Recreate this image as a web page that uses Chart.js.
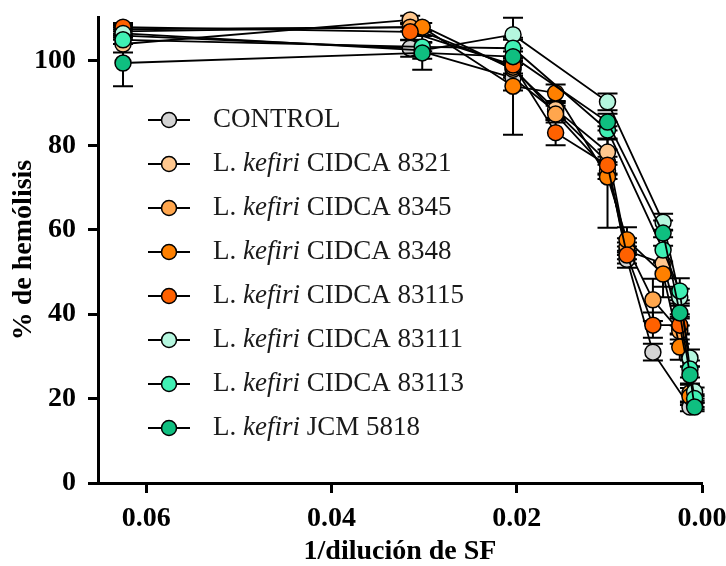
<!DOCTYPE html>
<html><head><meta charset="utf-8">
<script src="https://cdn.jsdelivr.net/npm/chart.js@4.4.1/dist/chart.umd.min.js"></script>
<style>
html,body{margin:0;padding:0;background:#fff;}
#wrap{position:relative;width:726px;height:566px;}
</style>
</head><body>
<div id="wrap"><canvas id="c" width="726" height="566"></canvas></div>
<script>
// ---- data ----
const seriesLabels = ['CONTROL','L. kefiri CIDCA 8321','L. kefiri CIDCA 8345','L. kefiri CIDCA 8348','L. kefiri CIDCA 83115','L. kefiri CIDCA 83111','L. kefiri CIDCA 83113','L. kefiri JCM 5818'];
const seriesColors = ['#d3d3d3','#ffc78e','#ffa64d','#ff8000','#ff6100','#b5f7df','#40f0b4','#0fbf80'];

const xControl = [0.0625,0.0315,0.0204,0.0158,0.0102,0.0081,0.0053,0.0013];
const yControl = [106,103,96,88,76,53,31,18];
const eControl = [2,2,3,2,3,2,2,1];

const x8321 = [0.0625,0.0315,0.0204,0.0158,0.0102,0.0081,0.0042,0.0024,0.0008];
const y8321 = [104,109.7,98,88.5,78.4,55,52,37,19];
const e8321 = [2,1,2,2,3,2,8,3,1];

const x8345 = [0.0625,0.0315,0.0204,0.0158,0.0102,0.0081,0.0053,0.0024,0.0013];
const y8345 = [107,108,98.5,87.4,74,56,43.4,36,21.3];
const e8345 = [1,1,2,2,2,2,5,3,2];

const x8348 = [0.0625,0.0302,0.0204,0.0158,0.0102,0.0081,0.0042,0.0024,0.0013];
const y8348 = [107.5,108,94,92.4,72.5,57.6,49.5,32.2,20.5];
const e8348 = [1,1,11.5,2,12,3,3,3,2];

const x83115 = [0.0625,0.0315,0.0204,0.0158,0.0102,0.0081,0.0053,0.0024,0.0008];
const y83115 = [108,106.9,99,83,75.3,54,37.4,37.4,18.5];
const e83115 = [1,2,2,3,2,2,3,2,1];

const x83111 = [0.0625,0.0302,0.0204,0.0102,0.0042,0.0024,0.0013,0.0008];
const y83111 = [106.5,102.5,106.2,90.3,61.8,44,29.6,21.6];
const e83111 = [1,2,4,2,2,2,2,1];

const x83113 = [0.0625,0.0302,0.0204,0.0102,0.0042,0.0024,0.0013,0.0008];
const y83113 = [105,103.3,103,83.6,55.2,45.5,27,20];
const e83113 = [1,1,2,2,3,3,2,1];

const xJCM = [0.0625,0.0302,0.0204,0.0102,0.0042,0.0024,0.0013,0.0008];
const yJCM = [99.5,101.9,101,85.5,59.2,40.3,25.6,18];
const eJCM = [5.5,4,2,2,3,3,2,1];

const xTickValues = [0, 0.02, 0.04, 0.06];
const yTickValues = [0, 20, 40, 60, 80, 100];

const allX = [xControl,x8321,x8345,x8348,x83115,x83111,x83113,xJCM];
const allY = [yControl,y8321,y8345,y8348,y83115,y83111,y83113,yJCM];
const allE = [eControl,e8321,e8345,e8348,e83115,e83111,e83113,eJCM];

// ---- build datasets ----
const datasets = seriesLabels.map((lab, i) => ({
  label: lab,
  data: allX[i].map((x, j) => ({x: x, y: allY[i][j]})),
  errors: allE[i],
  showLine: true,
  borderColor: '#000',
  borderWidth: 1.8,
  backgroundColor: seriesColors[i],
  pointBackgroundColor: seriesColors[i],
  pointBorderColor: '#000',
  pointBorderWidth: 1.5,
  pointRadius: 8,
  pointHoverRadius: 8,
  clip: false,
  order: seriesLabels.length - i
}));

const errorBarPlugin = {
  id: 'errorBars',
  beforeDatasetsDraw(chart) {
    const ctx = chart.ctx;
    const xs = chart.scales.x, ys = chart.scales.y;
    ctx.save();
    ctx.strokeStyle = '#000';
    ctx.lineWidth = 2;
    chart.data.datasets.forEach(ds => {
      ds.data.forEach((p, j) => {
        const e = ds.errors[j];
        if (!e) return;
        const px = xs.getPixelForValue(p.x);
        const top = ys.getPixelForValue(p.y + e);
        const bot = ys.getPixelForValue(p.y - e);
        ctx.beginPath();
        ctx.moveTo(px, top); ctx.lineTo(px, bot);
        ctx.moveTo(px - 10, top); ctx.lineTo(px + 10, top);
        ctx.moveTo(px - 10, bot); ctx.lineTo(px + 10, bot);
        ctx.stroke();
      });
    });
    ctx.restore();
  }
};

const legendPlugin = {
  id: 'customLegend',
  afterDraw(chart) {
    const ctx = chart.ctx;
    ctx.save();
    const x0 = 148, x1 = 190, cx = 169, tx = 213, y0 = 120, dy = 44;
    chart.data.datasets.forEach((ds, i) => {
      const y = y0 + i * dy;
      ctx.strokeStyle = '#000';
      ctx.lineWidth = 2;
      ctx.beginPath(); ctx.moveTo(x0, y); ctx.lineTo(x1, y); ctx.stroke();
      ctx.beginPath(); ctx.arc(cx, y, 7.5, 0, Math.PI * 2);
      ctx.fillStyle = seriesColors[i]; ctx.fill();
      ctx.lineWidth = 1.5; ctx.stroke();
      ctx.fillStyle = '#1a1a1a';
      ctx.textBaseline = 'middle';
      const normal = '27px "Liberation Serif", serif';
      const italic = 'italic 27px "Liberation Serif", serif';
      const parts = ds.label.split('kefiri');
      let x = tx;
      if (parts.length === 2) {
        ctx.font = normal; ctx.fillText(parts[0], x, y); x += ctx.measureText(parts[0]).width;
        ctx.font = italic; ctx.fillText('kefiri', x, y); x += ctx.measureText('kefiri').width;
        ctx.font = normal; ctx.fillText(parts[1], x, y);
      } else {
        ctx.font = normal; ctx.fillText(ds.label, x, y);
      }
    });
    ctx.restore();
  }
};

const tickFont = {family: '"Liberation Serif", serif', size: 28, weight: 'bold'};
const titleFont = {family: '"Liberation Serif", serif', size: 28, weight: 'bold'};

new Chart(document.getElementById('c'), {
  type: 'scatter',
  data: {datasets},
  plugins: [errorBarPlugin, legendPlugin],
  options: {
    responsive: false,
    animation: false,
    layout: {padding: {left: 0, right: 24, top: 17, bottom: 0}},
    plugins: {legend: {display: false}, tooltip: {enabled: false}},
    scales: {
      x: {
        type: 'linear', reverse: true, min: 0, max: 0.0652,
        afterBuildTicks: s => { s.ticks = xTickValues.map(v => ({value: v})); },
        afterFit: s => { s.height = 83; s.paddingLeft = 0; s.paddingRight = 0; },
        ticks: {font: tickFont, color: '#000', padding: 9, maxRotation: 0,
                callback: v => Number(v).toFixed(2)},
        grid: {drawOnChartArea: false, tickLength: 10, tickWidth: 3, tickColor: '#000'},
        border: {color: '#000', width: 3},
        title: {display: true, text: '1/dilución de SF', font: titleFont, color: '#000', padding: {top: 0, bottom: -3}}
      },
      y: {
        type: 'linear', min: 0, max: 110.4,
        afterBuildTicks: s => { s.ticks = yTickValues.map(v => ({value: v})); },
        afterFit: s => { s.width = 98; s.paddingTop = 0; s.paddingBottom = 0; },
        ticks: {font: tickFont, color: '#000', padding: 12,
                callback: v => String(v)},
        grid: {drawOnChartArea: false, tickLength: 10, tickWidth: 3, tickColor: '#000'},
        border: {color: '#000', width: 3},
        title: {display: true, text: '% de hemólisis', font: titleFont, color: '#000', padding: {top: 7, bottom: 0}}
      }
    }
  }
});
</script>
</body></html>
